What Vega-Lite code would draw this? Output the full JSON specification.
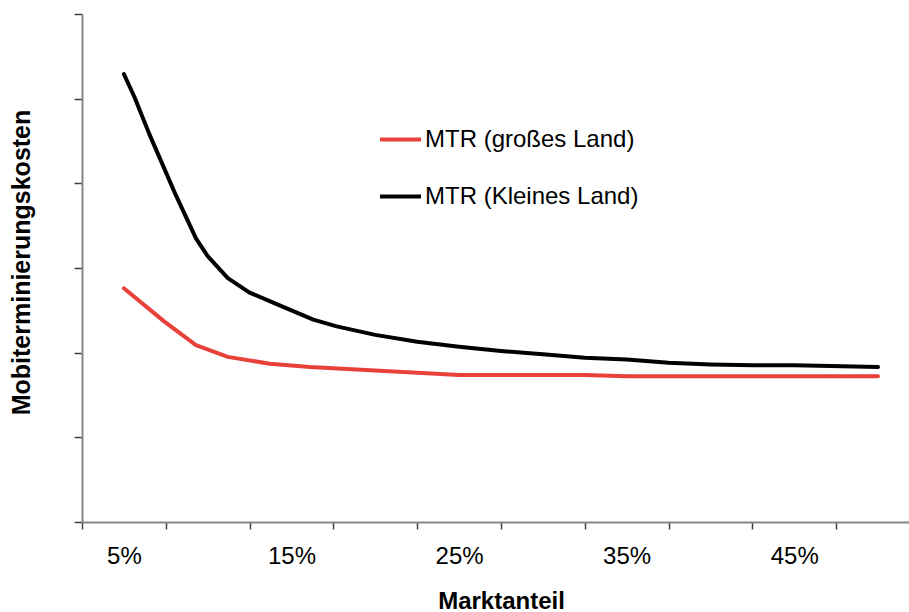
{
  "$schema": "https://vega.github.io/schema/vega-lite/v6.json",
  "autosize": {"type": "none"},
  "padding": {"left": 82, "top": 14, "right": 0, "bottom": 90},
  "width": 827,
  "height": 508,
  "background": "white",
  "config": {
    "view": {"stroke": null},
    "font": "Liberation Sans"
  },
  "data": {
    "values": [
      {"anteil": 5.0, "kosten": 2.76, "serie": "MTR (großes Land)"},
      {"anteil": 7.4, "kosten": 2.37, "serie": "MTR (großes Land)"},
      {"anteil": 9.3, "kosten": 2.09, "serie": "MTR (großes Land)"},
      {"anteil": 11.2, "kosten": 1.95, "serie": "MTR (großes Land)"},
      {"anteil": 13.7, "kosten": 1.87, "serie": "MTR (großes Land)"},
      {"anteil": 16.1, "kosten": 1.83, "serie": "MTR (großes Land)"},
      {"anteil": 20.0, "kosten": 1.79, "serie": "MTR (großes Land)"},
      {"anteil": 25.0, "kosten": 1.735, "serie": "MTR (großes Land)"},
      {"anteil": 32.5, "kosten": 1.735, "serie": "MTR (großes Land)"},
      {"anteil": 35.0, "kosten": 1.72, "serie": "MTR (großes Land)"},
      {"anteil": 45.0, "kosten": 1.72, "serie": "MTR (großes Land)"},
      {"anteil": 50.0, "kosten": 1.72, "serie": "MTR (großes Land)"},
      {"anteil": 5.0, "kosten": 5.29, "serie": "MTR (Kleines Land)"},
      {"anteil": 5.63, "kosten": 5.02, "serie": "MTR (Kleines Land)"},
      {"anteil": 6.5, "kosten": 4.59, "serie": "MTR (Kleines Land)"},
      {"anteil": 7.4, "kosten": 4.18, "serie": "MTR (Kleines Land)"},
      {"anteil": 8.1, "kosten": 3.86, "serie": "MTR (Kleines Land)"},
      {"anteil": 9.3, "kosten": 3.35, "serie": "MTR (Kleines Land)"},
      {"anteil": 10.0, "kosten": 3.14, "serie": "MTR (Kleines Land)"},
      {"anteil": 11.2, "kosten": 2.88, "serie": "MTR (Kleines Land)"},
      {"anteil": 12.5, "kosten": 2.71, "serie": "MTR (Kleines Land)"},
      {"anteil": 13.8, "kosten": 2.6, "serie": "MTR (Kleines Land)"},
      {"anteil": 15.0, "kosten": 2.5, "serie": "MTR (Kleines Land)"},
      {"anteil": 16.3, "kosten": 2.39, "serie": "MTR (Kleines Land)"},
      {"anteil": 17.7, "kosten": 2.31, "serie": "MTR (Kleines Land)"},
      {"anteil": 20.0, "kosten": 2.21, "serie": "MTR (Kleines Land)"},
      {"anteil": 22.5, "kosten": 2.13, "serie": "MTR (Kleines Land)"},
      {"anteil": 25.0, "kosten": 2.07, "serie": "MTR (Kleines Land)"},
      {"anteil": 27.5, "kosten": 2.02, "serie": "MTR (Kleines Land)"},
      {"anteil": 30.0, "kosten": 1.98, "serie": "MTR (Kleines Land)"},
      {"anteil": 32.5, "kosten": 1.94, "serie": "MTR (Kleines Land)"},
      {"anteil": 35.0, "kosten": 1.92, "serie": "MTR (Kleines Land)"},
      {"anteil": 37.5, "kosten": 1.88, "serie": "MTR (Kleines Land)"},
      {"anteil": 40.0, "kosten": 1.86, "serie": "MTR (Kleines Land)"},
      {"anteil": 42.5, "kosten": 1.85, "serie": "MTR (Kleines Land)"},
      {"anteil": 45.0, "kosten": 1.85, "serie": "MTR (Kleines Land)"},
      {"anteil": 50.0, "kosten": 1.83, "serie": "MTR (Kleines Land)"}
    ]
  },
  "mark": {"type": "line", "strokeWidth": 4, "strokeCap": "round", "strokeJoin": "round", "clip": true},
  "encoding": {
    "x": {
      "field": "anteil",
      "type": "quantitative",
      "scale": {"domain": [2.5, 51.85], "nice": false, "zero": false},
      "axis": {
        "title": "Marktanteil",
        "titleFont": "Liberation Sans",
        "titleFontWeight": "bold",
        "titleFontSize": 24,
        "titleColor": "black",
        "titleX": 419,
        "titleY": 86,
        "titleAlign": "center",
        "titleBaseline": "alphabetic",
        "values": [2.5, 5, 7.5, 12.5, 15, 17.5, 22.5, 25, 27.5, 32.5, 35, 37.5, 42.5, 45, 47.5],
        "labelExpr": "datum.value % 5 === 0 ? datum.value + '%' : ''",
        "labelFont": "Liberation Sans",
        "labelFontSize": 24,
        "labelColor": "black",
        "labelPadding": 15,
        "labelFlush": false,
        "labelOverlap": false,
        "tickOpacity": {"condition": {"test": "datum.value % 5 === 0", "value": 0}, "value": 1},
        "tickSize": 7,
        "tickWidth": 1.5,
        "tickColor": "#404040",
        "domainColor": "#868686",
        "domainWidth": 2,
        "grid": false
      }
    },
    "y": {
      "field": "kosten",
      "type": "quantitative",
      "scale": {"domain": [0, 6], "nice": false},
      "axis": {
        "title": "Mobiterminierungskosten",
        "titleFont": "Liberation Sans",
        "titleFontWeight": "bold",
        "titleFontSize": 25,
        "titleColor": "black",
        "titleAngle": -90,
        "titleX": -53,
        "titleY": 248,
        "titleAlign": "center",
        "titleBaseline": "alphabetic",
        "values": [0, 1, 2, 3, 4, 5, 6],
        "labels": false,
        "tickSize": 8,
        "tickWidth": 1.5,
        "tickColor": "#404040",
        "domainColor": "#868686",
        "domainWidth": 2,
        "grid": false
      }
    },
    "color": {
      "field": "serie",
      "type": "nominal",
      "scale": {"domain": ["MTR (großes Land)", "MTR (Kleines Land)"], "range": ["#e8413a", "#000000"]},
      "legend": {
        "title": null,
        "orient": "none",
        "legendX": 296,
        "legendY": 103,
        "padding": 0,
        "symbolType": "stroke",
        "symbolSize": 1681,
        "symbolStrokeWidth": 4,
        "labelFont": "Liberation Sans",
        "labelFontSize": 24,
        "labelColor": "black",
        "labelOffset": 2,
        "rowPadding": 22,
        "labelLimit": 400
      }
    }
  }
}
